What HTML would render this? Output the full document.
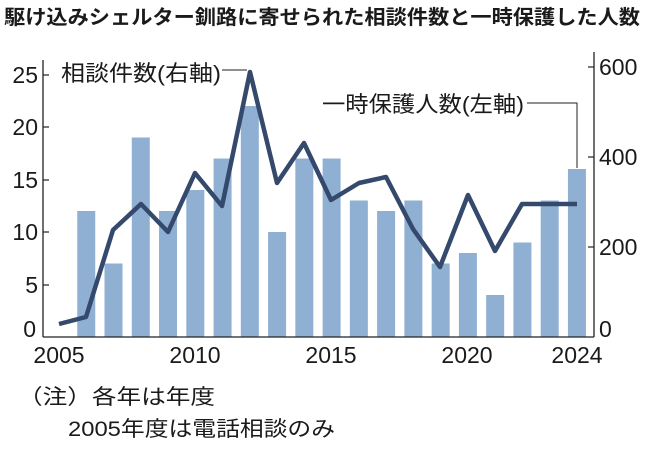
<!DOCTYPE html>
<html><head><meta charset="utf-8"><style>
body{margin:0;background:#fff;}
svg text{font-family:"Liberation Sans","Noto Sans CJK JP",sans-serif;fill:#1a1a1a;}
</style></head><body>
<svg width="650" height="450" xmlns="http://www.w3.org/2000/svg">
<text x="4" y="24" font-size="20" font-weight="bold" textLength="636" lengthAdjust="spacingAndGlyphs">駆け込みシェルター釧路に寄せられた相談件数と一時保護した人数</text>
<g fill="#8fb0d3" id="bars"></g>
<line x1="43" y1="60" x2="43" y2="337" stroke="#222" stroke-width="1.3"/>
<line x1="43" y1="337" x2="594" y2="337" stroke="#222" stroke-width="1.3"/>
<line x1="594" y1="52" x2="594" y2="337" stroke="#222" stroke-width="1.3"/>
<g stroke="#222" stroke-width="1.2">
<line x1="43" y1="75" x2="49" y2="75"/><line x1="43" y1="127" x2="49" y2="127"/><line x1="43" y1="180" x2="49" y2="180"/><line x1="43" y1="232" x2="49" y2="232"/><line x1="43" y1="285" x2="49" y2="285"/>
<line x1="588" y1="67" x2="594" y2="67"/><line x1="588" y1="157" x2="594" y2="157"/><line x1="588" y1="247" x2="594" y2="247"/>
</g>
<g font-size="23" text-anchor="end">
<text x="38" y="83">25</text><text x="38" y="135">20</text><text x="38" y="188">15</text><text x="38" y="240">10</text><text x="38" y="293">5</text><text x="36" y="337">0</text>
</g>
<g font-size="23">
<text x="599" y="75">600</text><text x="599" y="165">400</text><text x="599" y="255">200</text><text x="599" y="337">0</text>
</g>
<g font-size="23" text-anchor="middle">
<text x="59" y="363">2005</text><text x="195" y="363">2010</text><text x="331" y="363">2015</text><text x="467" y="363">2020</text><text x="577" y="363">2024</text>
</g>
<polyline fill="none" stroke="#34496b" stroke-width="4.5" stroke-linejoin="round" points="59,324 86,317 113,230 141,204 168,232 195,173 222,206 250,72 277,183 304,143 331,200 359,183 386,177 413,229 440,267 468,195 495,251 522,204 549,204 577,204"/>
<text x="61" y="81" font-size="22" textLength="160" lengthAdjust="spacingAndGlyphs">相談件数(右軸)</text>
<line x1="222" y1="70" x2="247" y2="70" stroke="#222" stroke-width="1"/>
<text x="322" y="112" font-size="22" textLength="202" lengthAdjust="spacingAndGlyphs">一時保護人数(左軸)</text>
<polyline fill="none" stroke="#222" stroke-width="1" points="527,103 577,103 577,168"/>
<text x="18" y="404" font-size="21" textLength="197" lengthAdjust="spacingAndGlyphs">（注）各年は年度</text>
<text x="68" y="436" font-size="21" textLength="267" lengthAdjust="spacingAndGlyphs">2005年度は電話相談のみ</text>
</svg>
<script>
var v=[0,12,7,19,12,14,17,22,10,17,17,13,12,13,7,8,4,9,13,16],g=document.getElementById('bars'),s='';
for(var i=0;i<20;i++){if(!v[i])continue;var cx=59+i*27.26,h=v[i]*10.5;s+='<rect x="'+(cx-9)+'" y="'+(337-h)+'" width="18" height="'+h+'"/>';}
g.innerHTML=s;
</script>
</body></html>
